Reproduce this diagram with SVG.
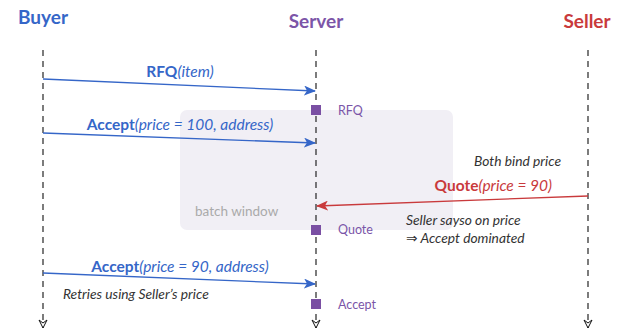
<svg xmlns="http://www.w3.org/2000/svg" width="628" height="335" viewBox="0 0 628 335">
<style>
text{font-family:Lato,"Open Sans","DejaVu Sans",sans-serif}
.title{font-size:19px;font-weight:bold}
.life{stroke:#111;stroke-width:1.1;stroke-dasharray:6 5;fill:none}
.blue{fill:#3566c8}
.red{fill:#c93a3c}
.msg{font-size:15.5px}
.b{font-weight:bold}
.i{font-style:italic}
.note{font-size:13.8px;font-style:italic;fill:#333}
.act{fill:#7a4fa3}
.actl{font-size:12.5px;fill:#7a55a8}
</style>
<defs>
<marker id="ab" viewBox="0 0 12 10" refX="11" refY="5" markerWidth="12" markerHeight="10" markerUnits="userSpaceOnUse" orient="auto">
<path d="M0,0 L12,5 L0,10 L3,5 Z" fill="#3566c8"/>
</marker>
<marker id="ar" viewBox="0 0 12 10" refX="11" refY="5" markerWidth="12" markerHeight="10" markerUnits="userSpaceOnUse" orient="auto">
<path d="M0,0 L12,5 L0,10 L3,5 Z" fill="#c93a3c"/>
</marker>
<marker id="end" viewBox="0 0 10 10" refX="9" refY="5" markerWidth="10" markerHeight="10" markerUnits="userSpaceOnUse" orient="auto">
<path d="M1,1 L9,5 L1,9 L4,5 Z" fill="#fff" stroke="#111" stroke-width="1"/>
</marker>
</defs>
<rect id="batch" x="180" y="110" width="273" height="120" rx="7" fill="#f1eff5"/>
<text x="195" y="216" font-size="13.5" fill="#aaa">batch window</text>
<g id="buyer">
<text class="title blue" x="43" y="24" text-anchor="middle">Buyer</text>
<line class="life" x1="43" y1="50" x2="43" y2="328" marker-end="url(#end)"/>
</g>
<g id="server">
<text class="title" fill="#7c55a8" x="316" y="28" text-anchor="middle">Server</text>
<line class="life" x1="316" y1="50" x2="316" y2="328" marker-end="url(#end)"/>
</g>
<g id="seller">
<text class="title red" x="587" y="28" text-anchor="middle">Seller</text>
<line class="life" x1="588" y1="50" x2="588" y2="328" marker-end="url(#end)"/>
</g>
<g id="activations">
<rect class="act" x="311" y="105" width="10" height="10"/>
<text class="actl" x="338" y="115">RFQ</text>
<rect class="act" x="311" y="225" width="10" height="10"/>
<text class="actl" x="338" y="234">Quote</text>
<rect class="act" x="311" y="299" width="10" height="10"/>
<text class="actl" x="338" y="309">Accept</text>
</g>
<g id="connectors">
<line x1="43" y1="79" x2="315" y2="91" stroke="#3566c8" stroke-width="1.3" marker-end="url(#ab)"/>
<line x1="43" y1="133" x2="315" y2="143" stroke="#3566c8" stroke-width="1.3" marker-end="url(#ab)"/>
<line x1="588" y1="196" x2="317" y2="206" stroke="#c93a3c" stroke-width="1.3" marker-end="url(#ar)"/>
<line x1="43" y1="273" x2="315" y2="284" stroke="#3566c8" stroke-width="1.3" marker-end="url(#ab)"/>
</g>
<g id="labels">
<text class="msg blue" x="180" y="77" text-anchor="middle"><tspan class="b">RFQ</tspan><tspan class="i">(item)</tspan></text>
<text class="msg blue" x="180" y="130" text-anchor="middle"><tspan class="b">Accept</tspan><tspan class="i">(price = 100, address)</tspan></text>
<text class="msg red" x="552" y="191" text-anchor="end"><tspan class="b">Quote</tspan><tspan class="i">(price = 90)</tspan></text>
<text class="msg blue" x="180" y="272" text-anchor="middle"><tspan class="b">Accept</tspan><tspan class="i">(price = 90, address)</tspan></text>
<text class="note" x="561" y="166" text-anchor="end">Both bind price</text>
<text class="note" x="406" y="225">Seller sayso on price</text>
<text class="note" x="406" y="243">⇒ Accept dominated</text>
<text class="note" x="63" y="299">Retries using Seller’s price</text>
</g>
</svg>
